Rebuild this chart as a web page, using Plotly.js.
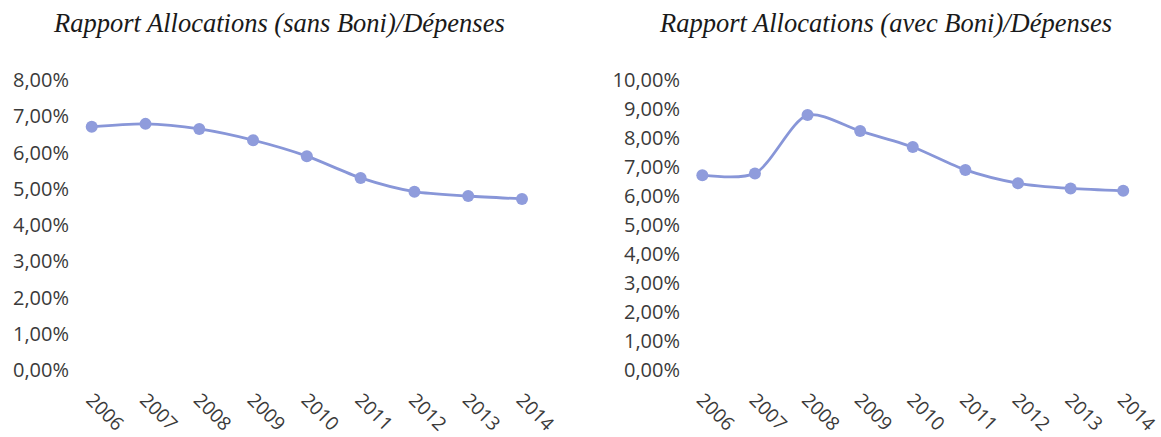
<!DOCTYPE html>
<html>
<head>
<meta charset="utf-8">
<script src="https://cdn.plot.ly/plotly-3.0.1.min.js"></script>
<style>html,body{margin:0;padding:0;background:#fff;}#chart{width:1161px;height:437px;}</style>
</head>
<body>
<div id="chart"></div>
<script>
var years = ["2006","2007","2008","2009","2010","2011","2012","2013","2014"];
var sansBoni = [0.0671, 0.0679, 0.0665, 0.0634, 0.0590, 0.0530, 0.0492, 0.0480, 0.0472];
var avecBoni = [0.0672, 0.0678, 0.0879, 0.0824, 0.0769, 0.0690, 0.0644, 0.0626, 0.0618];
var titleLeft = "Rapport Allocations (sans Boni)/Dépenses";
var titleRight = "Rapport Allocations (avec Boni)/Dépenses";

var lineColor = "#8896d8";
var markerColor = "#8f9cdc";

function trace(y, xa, ya) {
  return {
    x: years, y: y, xaxis: xa, yaxis: ya,
    type: "scatter", mode: "lines+markers",
    line: {color: lineColor, width: 2.8, shape: "spline", smoothing: 0.8},
    marker: {color: markerColor, size: 12},
    showlegend: false, hoverinfo: "skip"
  };
}

var yTickFont = {family: "Open Sans, sans-serif", size: 20, color: "#3a3a3a"};
var xTickFont = {family: "Open Sans, sans-serif", size: 19, color: "#3a3a3a"};

var xCommon = {
  type: "category", range: [-0.367, 8.367], showgrid: false, zeroline: false,
  showline: false, ticks: "", tickangle: 45, tickfont: xTickFont, fixedrange: true,
  ticklabelstandoff: 14
};

var yCommon = {
  domain: [0.1533, 0.8169], dtick: 0.01, tickformat: ".2%",
  showgrid: false, zeroline: false, showline: false, ticks: "", tickfont: yTickFont,
  ticklabelstandoff: 2
};

var layout = {
  width: 1161, height: 437,
  margin: {l: 0, r: 0, t: 0, b: 0},
  paper_bgcolor: "#ffffff", plot_bgcolor: "#ffffff",
  separators: ", ",
  xaxis: Object.assign({}, xCommon, {domain: [0.0620, 0.4666], anchor: "y"}),
  yaxis: Object.assign({}, yCommon, {range: [0, 0.08], anchor: "x"}),
  xaxis2: Object.assign({}, xCommon, {domain: [0.5883, 0.9841], anchor: "y2"}),
  yaxis2: Object.assign({}, yCommon, {range: [0, 0.10], anchor: "x2"}),
  annotations: [
    {text: titleLeft, xref: "paper", yref: "paper", x: 279/1161, y: 1 - 23/437,
     xanchor: "center", yanchor: "middle", showarrow: false,
     font: {family: "Liberation Serif, serif", size: 26.5, color: "#1a1a1a", style: "italic"}},
    {text: titleRight, xref: "paper", yref: "paper", x: 885/1161, y: 1 - 23/437,
     xanchor: "center", yanchor: "middle", showarrow: false,
     font: {family: "Liberation Serif, serif", size: 26.5, color: "#1a1a1a", style: "italic"}}
  ]
};

Plotly.newPlot("chart", [trace(sansBoni, "x", "y"), trace(avecBoni, "x2", "y2")], layout, {staticPlot: true, displayModeBar: false});
</script>
</body>
</html>
